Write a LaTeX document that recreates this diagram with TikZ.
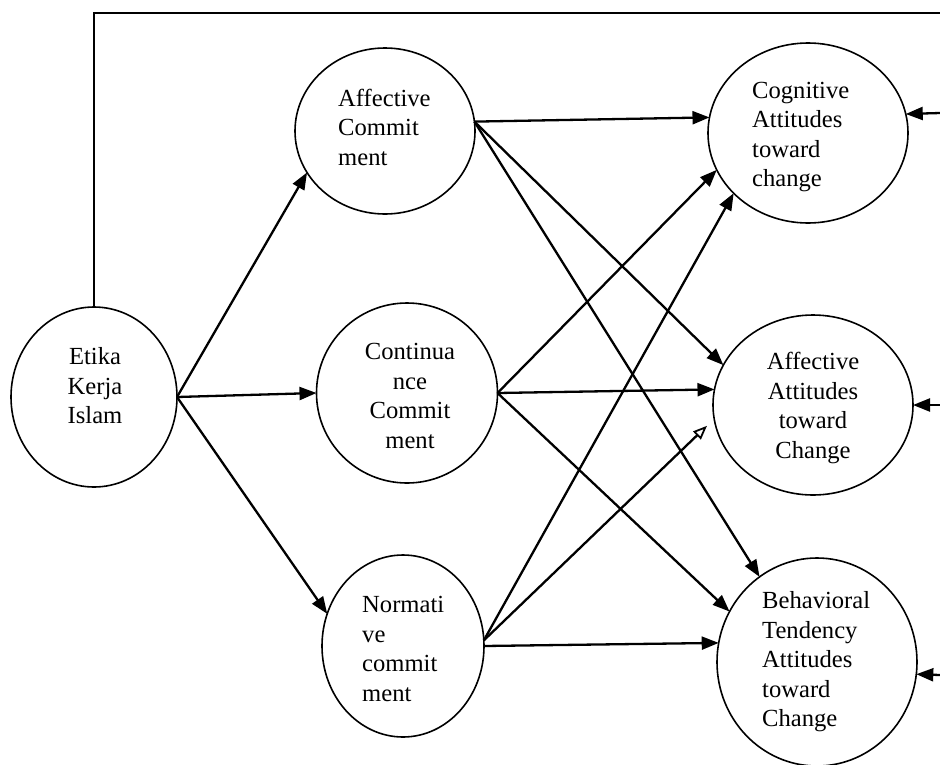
\documentclass[tikz,border=0pt]{standalone}
\usepackage{fontspec}
\setmainfont{Liberation Serif}
\usetikzlibrary{arrows.meta,shapes.geometric}
\begin{document}
\begin{tikzpicture}[x=1pt,y=-1pt,
  circ/.style={draw,ellipse,line width=1.6pt,inner sep=0pt,outer sep=0pt},
  lbl/.style={inner sep=0pt,font=\fontsize{24.6pt}{29.5pt}\selectfont},
  arr/.style={line width=2.3pt,-{Triangle[length=17pt,width=13pt]}},
  oarr/.style={line width=2.3pt,-{Triangle[open,length=14pt,width=11pt,line width=1.8pt]}},
  frame/.style={line width=2pt}]
\useasboundingbox (0,0) rectangle (940,764);
% ellipses
\node[circ,minimum width=166pt,minimum height=180pt] (etika) at (94,397) {};
\node[circ,minimum width=180pt,minimum height=166pt] (affc) at (385,131) {};
\node[circ,minimum width=181pt,minimum height=180pt] (cont) at (407,393) {};
\node[circ,minimum width=162pt,minimum height=182pt] (norm) at (403,646) {};
\node[circ,minimum width=200pt,minimum height=180pt] (cog) at (808,133) {};
\node[circ,minimum width=200pt,minimum height=180pt] (affa) at (813,405) {};
\node[circ,minimum width=200pt,minimum height=208pt] (beh) at (817,662) {};
% texts
\node[lbl,align=center] (etikaT) at (95,386) {Etika\\Kerja\\Islam};
\node[lbl,align=left,anchor=west] (affcT) at (338,127) {Affective\\Commit\\ment};
\node[lbl,align=center] (contT) at (410,396) {Continua\\nce\\Commit\\ment};
\node[lbl,align=left,anchor=west] (normT) at (362,649) {Normati\\ve\\commit\\ment};
\node[lbl,align=left,anchor=west] (cogT) at (752,137) {Cognitive\\Attitudes\\toward\\change};
\node[lbl,align=center] (affaT) at (813,408) {Affective\\Attitudes\\toward\\Change};
\node[lbl,align=left,anchor=west] (behT) at (762,662) {Behavioral\\Tendency\\Attitudes\\toward\\Change};
% frame line
\coordinate (topR) at (940,13);
\coordinate (cogR) at (940,113);
\coordinate (affaR) at (940,405);
\coordinate (behR) at (940,675);
\draw[frame] (etika.north) |- (topR);
% Etika arrows
\draw[arr] (etika.east) -- (affc.208);
\draw[arr] (etika.east) -- (cont.180);
\draw[arr] (etika.east) -- (norm.157);
% Affective commitment arrows
\draw[arr] (affc.6) -- (cog.171);
\draw[arr] (affc.6) -- (affa.156);
\draw[arr] (affc.6) -- (beh.124);
% Continuance arrows
\draw[arr] (cont.east) -- (cog.202);
\draw[arr] (cont.east) -- (affa.171);
\draw[arr] (cont.east) -- (beh.150);
% Normative arrows
\draw[arr] (norm.4) -- (cog.219);
\draw[oarr,shorten >=10pt] (norm.4) -- (affa.188);
\draw[arr] (norm.east) -- (beh.169);
% right edge arrows
\draw[arr] (cogR) -- (cog.11);
\draw[arr] (affaR) -- (affa.0);
\draw[arr] (behR) -- (beh.353);
\end{tikzpicture}
\end{document}
